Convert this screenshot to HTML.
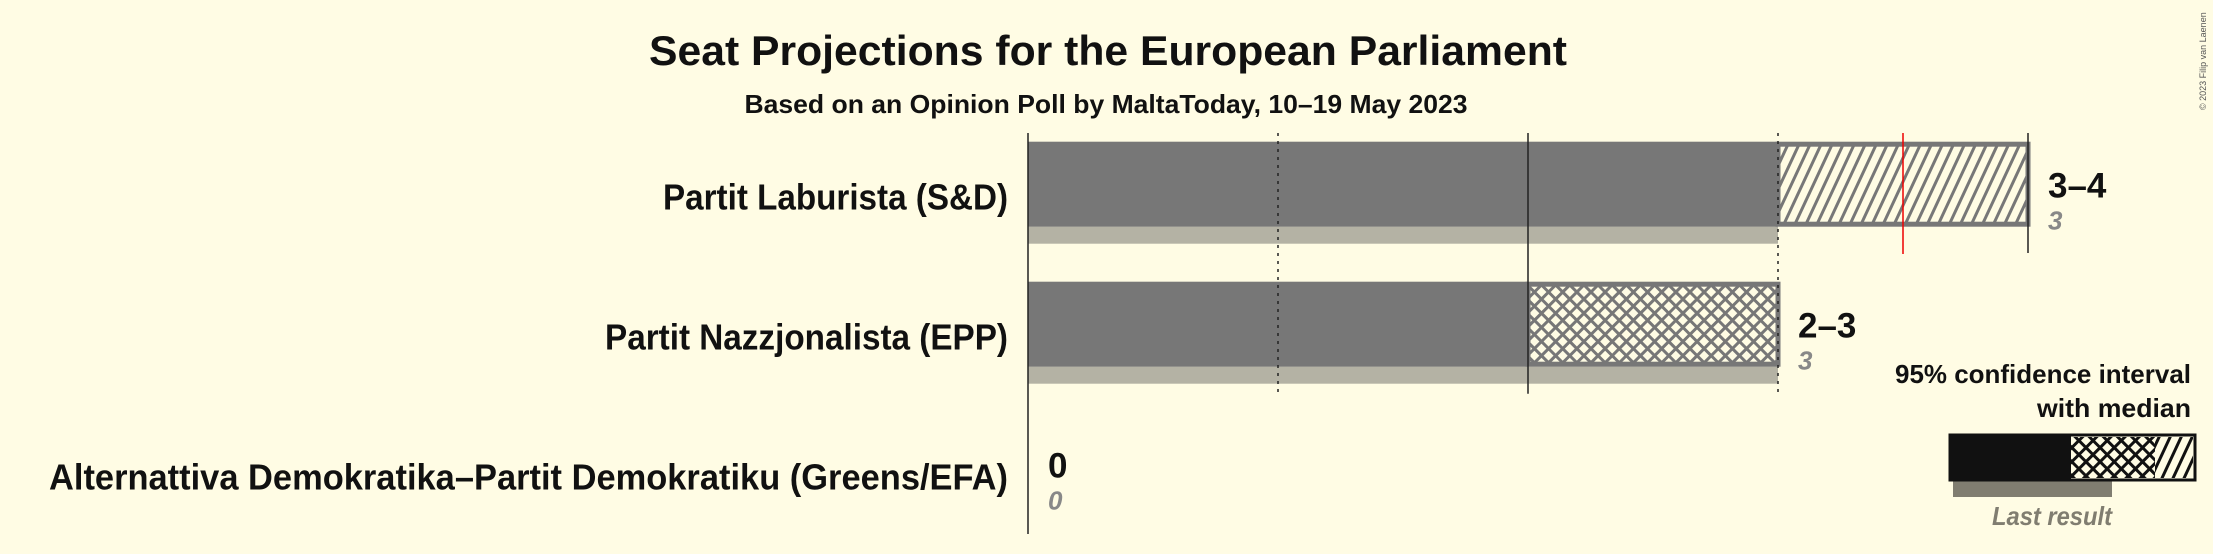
<!DOCTYPE html>
<html><head><meta charset="utf-8"><style>
html,body{margin:0;padding:0;background:#fffce4;}
svg{display:block;font-family:"Liberation Sans",sans-serif;}
</style></head><body>
<svg id="chart" width="2213" height="554" viewBox="0 0 2213 554" xmlns="http://www.w3.org/2000/svg">
<defs>
<pattern id="diag" patternUnits="userSpaceOnUse" width="10" height="10" patternTransform="rotate(25)">
<rect width="10" height="10" fill="#fffce4"/><rect width="3" height="10" fill="#777"/></pattern>
<pattern id="cross" patternUnits="userSpaceOnUse" width="10" height="10" patternTransform="rotate(45)">
<rect width="10" height="10" fill="#fffce4"/><rect width="3" height="10" fill="#777"/><rect width="10" height="3" fill="#777"/></pattern>
<pattern id="diagK" patternUnits="userSpaceOnUse" width="10" height="10" patternTransform="rotate(25)">
<rect width="10" height="10" fill="#fffce4"/><rect width="3" height="10" fill="#111"/></pattern>
<pattern id="crossK" patternUnits="userSpaceOnUse" width="10" height="10" patternTransform="rotate(45)">
<rect width="10" height="10" fill="#fffce4"/><rect width="3" height="10" fill="#111"/><rect width="10" height="3" fill="#111"/></pattern>
</defs>
<text x="1108" y="65" text-anchor="middle" font-size="42" font-weight="bold" fill="#111" textLength="918" lengthAdjust="spacingAndGlyphs">Seat Projections for the European Parliament</text>
<text x="1106" y="113" text-anchor="middle" font-size="26" font-weight="bold" fill="#111" textLength="723" lengthAdjust="spacingAndGlyphs">Based on an Opinion Poll by MaltaToday, 10–19 May 2023</text>
<text transform="translate(2206,110) rotate(-90)" font-size="9" fill="#555">© 2023 Filip van Laenen</text>
<g id="plot"></g>
<g>
<text x="2191" y="383" text-anchor="end" font-size="26" font-weight="bold" fill="#111" textLength="296" lengthAdjust="spacingAndGlyphs">95% confidence interval</text>
<text x="2191" y="417" text-anchor="end" font-size="26" font-weight="bold" fill="#111" textLength="154" lengthAdjust="spacingAndGlyphs">with median</text>
<rect x="1953" y="480" width="159" height="17" fill="#807d70"/>
<rect x="1950" y="435" width="121" height="45" fill="#111"/>
<rect x="2071" y="437" width="84" height="41" fill="url(#crossK)"/>
<rect x="2155" y="437" width="38" height="41" fill="url(#diagK)"/>
<rect x="1950" y="435" width="245" height="45" fill="none" stroke="#111" stroke-width="3"/>
<text x="2112" y="525" text-anchor="end" font-size="26" font-style="italic" font-weight="bold" fill="#807d70" textLength="120" lengthAdjust="spacingAndGlyphs">Last result</text>
</g>
</svg>
<script>
const parties = ["Partit Laburista (S&D)", "Partit Nazzjonalista (EPP)", "Alternattiva Demokratika–Partit Demokratiku (Greens/EFA)"];
const ciLow = [3, 2, 0];
const ciHigh = [4, 3, 0];
const lastResult = [3, 3, 0];
const rangeLabels = ["3–4", "2–3", "0"];
const medianValues = [3.5, null, null];
const ticks = [0, 1, 2, 3, 4];
const labelWidths = [345, 403, 959];

const NS = "http://www.w3.org/2000/svg";
const x0 = 1028, perSeat = 250;
const xScale = v => x0 + v * perSeat;
const rowTop = i => 141.7 + i * 140;
const barH = 85, lastH = 17;
const g = document.getElementById('plot');
function mk(tag, attrs){const e=document.createElementNS(NS,tag);for(const k in attrs)e.setAttribute(k,attrs[k]);g.appendChild(e);return e;}

parties.forEach((p,i)=>{
  const top = rowTop(i);
  if (ciHigh[i] > 0 || lastResult[i] > 0) {
    const lr = mk('rect',{x:xScale(0),y:top+barH,width:xScale(lastResult[i])-xScale(0),height:lastH,fill:'#b4b2a4'});
    
    
    const solid = mk('rect',{x:xScale(0),y:top,width:xScale(ciLow[i])-xScale(0),height:barH,fill:'#777'});
    
    
    const isCross = lastResult[i] >= ciHigh[i] && lastResult[i] > ciLow[i];
    const hb = mk('rect',{x:xScale(ciLow[i]),y:top+2.5,width:xScale(ciHigh[i])-xScale(ciLow[i]),height:barH-5,fill:isCross?'url(#cross)':'url(#diag)',stroke:'#777','stroke-width':5});
    
    
  }
});
ticks.forEach(t=>{
  if(t===0) return;
  const maxRow = ciHigh.reduce((m,v,i)=> (v>=t||lastResult[i]>=t)? i : m, -1);
  if(maxRow<0) return;
  const yEnd = (t===4) ? 253 : rowTop(maxRow)+barH+lastH+10;
  const dashed = t%2===1;
  const ln = mk('line',{x1:xScale(t),x2:xScale(t),y1:133,y2:yEnd,stroke:'#222','stroke-width':1.5,'stroke-dasharray':dashed?'3,5':'none'});
  
  
});
const axis = mk('line',{x1:xScale(0),x2:xScale(0),y1:133,y2:534,stroke:'#222','stroke-width':1.5});


medianValues.forEach((m,i)=>{
  if(m===null) return;
  const ml = mk('line',{x1:xScale(m),x2:xScale(m),y1:133,y2:254,stroke:'#e00','stroke-width':1.5});
  
  
});
parties.forEach((p,i)=>{
  const top = rowTop(i);
  const lbl = mk('text',{x:1008,y:top+68,'text-anchor':'end','font-size':36,'font-weight':'bold',fill:'#111',textLength:labelWidths[i],lengthAdjust:'spacingAndGlyphs'});
  lbl.textContent = p;
  
  
  const endX = Math.max(xScale(ciHigh[i]), xScale(lastResult[i])) + 20;
  const rl = mk('text',{x:endX,y:top+56,'font-size':35,'font-weight':'bold',fill:'#111'});
  rl.textContent = rangeLabels[i];
  
  
  const ll = mk('text',{x:endX,y:top+88,'font-size':26,'font-style':'italic','font-weight':'bold',fill:'#888'});
  ll.textContent = String(lastResult[i]);
  
  
});
</script>
</body></html>
